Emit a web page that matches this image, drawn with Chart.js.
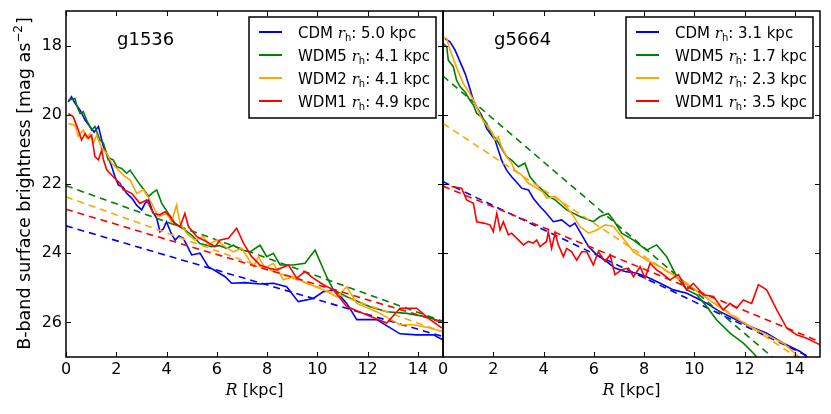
<!DOCTYPE html>
<html>
<head>
<meta charset="utf-8">
<script src="https://cdn.jsdelivr.net/npm/chart.js@4/dist/chart.umd.min.js"></script>
<style>
  body { margin: 0; background: #fff; }
  #wrap { position: relative; width: 831px; height: 414px; }
  canvas { position: absolute; left: 0; top: 0; }
</style>
</head>
<body>
<div id="wrap">
  <canvas id="left" width="831" height="414"></canvas>
  <canvas id="right" width="831" height="414"></canvas>
</div>
<script>
// axes
const xTicks = [0, 2, 4, 6, 8, 10, 12, 14];
const yTicks = [18, 20, 22, 24, 26];
const models = ["CDM", "WDM5", "WDM2", "WDM1"];
const colors = ["#0000ff", "#008000", "#ffa500", "#ff0000"];
const fitR = [0, 15];

// g1536
const g1536Rh = ["5.0", "4.1", "4.1", "4.9"];
const g1536CdmR = [0.09,0.22,0.36,0.55,0.76,0.95,1.12,1.29,1.49,1.68,1.82,1.95,2.08,2.28,2.41,2.61,2.81,3.01,3.15,3.29,3.45,3.61,3.74,3.87,4.0,4.17,4.34,4.5,4.67,5.0,5.33,5.66,5.99,6.33,6.59,7.12,7.72,8.25,8.78,9.24,9.84,10.24,10.7,11.17,11.57,12.36,13.29,13.95,14.62,14.99];
const g1536CdmMu = [19.63,19.48,19.67,19.85,20.15,20.34,20.5,20.34,20.92,21.21,21.5,21.79,22.03,22.1,22.27,22.4,22.61,22.75,22.55,22.46,22.8,22.99,23.38,23.3,23.09,23.4,23.62,23.5,23.57,24.05,24.0,24.39,24.53,24.68,24.87,24.85,24.89,24.87,24.97,25.4,25.31,25.11,25.06,25.45,25.92,25.92,26.33,26.36,26.36,26.5];
const g1536Wdm5R = [0.09,0.36,0.42,0.56,0.69,0.82,1.02,1.15,1.35,1.49,1.68,1.75,1.88,2.02,2.21,2.41,2.55,2.81,3.01,3.29,3.45,3.61,3.81,4.07,4.34,4.73,5.0,5.33,5.8,6.1,6.39,6.66,6.99,7.32,7.72,7.99,8.25,8.52,9.04,9.51,9.91,10.37,10.64,11.17,12.1,12.76,13.56,14.35,14.95];
const g1536Wdm5Mu = [19.58,19.53,19.72,19.96,19.91,20.15,20.44,20.34,20.73,20.82,21.3,21.26,21.3,21.5,21.55,21.69,21.6,21.88,22.08,22.36,22.25,22.17,22.56,22.85,23.13,23.33,23.48,23.72,23.81,23.78,23.86,23.77,23.91,23.96,23.77,24.1,24.0,24.34,24.34,24.29,23.91,24.68,25.06,25.26,25.55,25.69,25.74,25.84,25.98];
const g1536Wdm2R = [0.09,0.36,0.49,0.69,0.82,0.95,1.09,1.22,1.42,1.62,1.82,2.08,2.35,2.55,2.81,3.08,3.34,3.67,4.0,4.2,4.4,4.54,4.8,5.13,5.47,5.66,5.99,6.33,6.66,6.99,7.46,7.66,7.92,8.25,8.65,9.04,9.58,10.24,10.77,11.17,11.57,12.36,13.29,13.82,14.49,14.95];
const g1536Wdm2Mu = [20.25,20.3,20.63,20.44,20.68,20.54,20.82,20.59,20.97,21.11,21.4,21.59,21.79,21.88,22.27,22.17,22.46,22.94,22.85,23.09,22.61,23.13,23.42,23.62,23.52,23.76,23.62,23.81,23.96,23.86,24.39,24.1,24.43,24.29,24.77,24.68,24.87,25.06,25.26,24.97,25.45,25.69,26.07,26.07,26.16,26.26];
const g1536Wdm1R = [0.09,0.29,0.49,0.62,0.76,0.89,1.02,1.15,1.29,1.42,1.49,1.62,1.88,2.15,2.28,2.41,2.61,2.94,3.21,3.47,3.74,3.94,4.14,4.34,4.54,4.73,4.87,5.2,5.6,5.93,6.13,6.46,6.79,7.06,7.39,7.72,8.05,8.38,8.85,9.18,9.51,9.84,10.24,10.64,11.17,11.83,12.76,13.29,13.95,14.49,14.95];
const g1536Wdm1Mu = [19.96,20.06,20.44,20.73,20.54,20.68,20.59,21.21,21.3,21.02,21.3,21.59,21.79,21.98,22.17,22.2,22.27,22.56,22.46,22.85,22.89,22.8,22.94,23.18,23.23,22.85,23.23,23.52,23.67,23.81,23.62,23.57,23.28,23.71,24.1,24.34,24.43,24.48,24.34,24.72,24.53,24.72,24.91,25.06,25.54,25.74,26.02,25.59,25.59,25.92,26.16];
const g1536FitCdm = [23.21, 26.41];
const g1536FitWdm5 = [22.05, 25.97];
const g1536FitWdm2 = [22.37, 26.28];
const g1536FitWdm1 = [22.73, 26.0];

// g5664
const g5664Rh = ["3.1", "1.7", "2.3", "3.5"];
const g5664CdmR = [0.08,0.28,0.48,0.68,0.88,1.01,1.21,1.34,1.54,1.74,1.94,2.07,2.2,2.33,2.53,2.73,2.93,3.13,3.4,3.59,3.86,4.06,4.39,4.72,5.05,5.25,5.52,5.79,6.12,6.51,6.84,7.24,7.71,8.1,8.64,9.17,9.7,10.1,10.49,11.02,11.55,12.22,12.88,13.54,14.21,14.47,15.0];
const g5664CdmMu = [17.8,17.89,18.13,18.47,18.81,19.1,19.58,19.78,20.02,20.4,20.6,20.73,21.02,21.31,21.6,21.79,21.95,22.12,22.17,22.41,22.65,22.8,23.09,23.04,23.23,23.13,23.47,23.81,24.05,24.24,24.43,24.53,24.58,24.68,24.87,25.06,25.16,25.3,25.45,25.69,25.88,26.12,26.31,26.6,26.84,26.99,27.3];
const g5664Wdm5R = [0.01,0.15,0.21,0.41,0.54,0.68,0.88,1.07,1.21,1.34,1.54,1.74,1.87,2.14,2.33,2.53,2.73,3.0,3.26,3.46,3.73,3.99,4.19,4.46,4.92,5.45,5.98,6.25,6.58,6.78,7.11,7.58,8.1,8.5,8.9,9.3,9.7,10.1,10.49,10.89,11.42,11.95,12.35,12.6];
const g5664Wdm5Mu = [17.94,18.04,18.42,18.61,19.0,19.19,19.34,19.58,19.72,19.96,20.06,20.25,20.49,20.73,20.97,21.21,21.31,21.5,21.4,21.79,22.03,22.2,22.35,22.46,22.75,22.94,23.09,22.94,22.85,23.04,23.42,23.62,23.91,23.76,24.1,24.68,25.06,25.2,25.54,25.93,26.31,26.6,26.89,27.1];
const g5664Wdm2R = [0.01,0.15,0.28,0.48,0.61,0.81,0.94,1.14,1.34,1.54,1.74,1.94,2.07,2.2,2.33,2.53,2.73,2.86,3.13,3.4,3.73,3.99,4.12,4.46,4.79,5.12,5.45,5.79,6.12,6.45,6.78,7.11,7.58,8.1,8.64,9.17,9.7,10.23,10.89,11.55,12.22,12.88,13.54,14.07,14.5];
const g5664Wdm2Mu = [17.75,17.8,18.13,18.52,18.76,19.1,19.24,19.48,19.78,20.11,20.3,20.49,20.73,20.63,20.92,21.21,21.4,21.6,21.74,21.98,22.12,22.25,22.41,22.36,22.56,22.85,23.23,23.42,23.33,23.18,23.23,23.52,23.96,24.2,24.39,24.63,24.87,25.16,25.5,25.83,26.12,26.36,26.6,26.94,27.2];
const g5664Wdm1R = [0.34,0.74,0.94,1.21,1.34,1.61,1.87,2.0,2.14,2.27,2.4,2.6,2.73,3.06,3.2,3.4,3.59,3.73,3.86,4.12,4.19,4.32,4.46,4.59,4.79,4.92,5.12,5.32,5.52,5.72,5.98,6.18,6.45,6.65,6.84,7.11,7.38,7.58,7.84,8.04,8.24,8.5,8.7,9.03,9.37,9.7,9.96,10.36,10.76,11.15,11.42,11.68,11.95,12.28,12.55,12.88,13.28,13.68,14.07,14.47,15.0];
const g5664Wdm1Mu = [22.07,22.12,22.46,22.56,23.09,23.13,23.18,23.38,22.85,23.33,23.09,23.47,23.42,23.66,23.76,23.66,23.71,23.62,23.81,23.66,23.38,23.86,23.42,23.76,24.1,23.86,23.96,24.2,23.96,23.96,24.34,23.96,24.24,24.05,24.62,24.48,24.43,24.68,24.39,24.72,24.29,24.48,24.58,24.77,24.62,25.06,24.87,25.2,25.25,25.64,25.45,25.59,25.35,25.45,24.91,25.06,25.64,26.17,26.36,26.46,26.65];
const g5664FitCdm = [21.93, 27.14];
const g5664FitWdm5 = [18.88, 28.18];
const g5664FitWdm2 = [20.25, 27.45];
const g5664FitWdm1 = [22.06, 26.56];

const FONT = '"DejaVu Sans", sans-serif';
const SERIF = '"DejaVu Serif", serif';

const pts = (r, mu) => r.map((v, i) => ({ x: v, y: mu[i] }));

// matplotlib order: profile then fit, per model; last drawn ends on top
const buildDatasets = (profiles, fits) => {
    const list = [];
    profiles.forEach((p, i) => {
        list.push({ data: pts(p[0], p[1]), borderColor: colors[i], borderWidth: 1.6 });
        list.push({ data: pts(fitR, fits[i]), borderColor: colors[i], borderWidth: 1.6, borderDash: [7, 5] });
    });
    return list.reverse();
};

const line = (ctx, x1, y1, x2, y2) => {
    ctx.beginPath();
    ctx.moveTo(x1, y1);
    ctx.lineTo(x2, y2);
    ctx.stroke();
};

const panelPlugin = {
    id: "panel",
    afterDraw(chart, args, opts) {
        const { ctx, chartArea: a, scales } = chart;
        ctx.save();
        ctx.strokeStyle = "#000";
        ctx.fillStyle = "#000";

        // inward ticks on all four sides
        ctx.lineWidth = 1;
        xTicks.forEach((v) => {
            const x = Math.round(scales.x.getPixelForValue(v)) + 0.5;
            line(ctx, x, a.bottom, x, a.bottom - 5);
            line(ctx, x, a.top, x, a.top + 5);
        });
        yTicks.forEach((v) => {
            const y = Math.round(scales.y.getPixelForValue(v)) + 0.5;
            line(ctx, a.left, y, a.left + 5, y);
            line(ctx, a.right, y, a.right - 5, y);
        });

        // frame
        ctx.lineWidth = 1.5;
        ctx.strokeRect(a.left, a.top, a.right - a.left, a.bottom - a.top);

        // panel name
        ctx.font = "18px " + FONT;
        ctx.textBaseline = "alphabetic";
        ctx.textAlign = "left";
        ctx.fillText(opts.title, a.left + 51, 45);

        // legend
        const bx = a.right - 194, by = 17, bw = 187, bh = 101;
        ctx.fillStyle = "#fff";
        ctx.fillRect(bx, by, bw, bh);
        ctx.lineWidth = 1.5;
        ctx.strokeRect(bx, by, bw, bh);
        models.forEach((m, i) => {
            const cy = by + 15 + i * 23;
            ctx.strokeStyle = colors[i];
            ctx.lineWidth = 2;
            line(ctx, bx + 10, cy, bx + 33, cy);
            ctx.fillStyle = "#000";
            let x = bx + 49;
            const base = cy + 5.5;
            ctx.font = "15px " + FONT;
            ctx.fillText(m + " ", x, base);
            x += ctx.measureText(m + " ").width;
            ctx.font = "italic 15px " + SERIF;
            ctx.fillText("r", x, base);
            x += ctx.measureText("r").width;
            ctx.font = "10px " + FONT;
            ctx.fillText("h", x, base + 3);
            x += ctx.measureText("h").width;
            ctx.font = "15px " + FONT;
            ctx.fillText(": " + opts.rh[i] + " kpc", x, base);
        });

        // x axis title: R [kpc]
        ctx.fillStyle = "#000";
        const cx = (a.left + a.right) / 2;
        ctx.font = "italic 16px " + SERIF;
        const wR = ctx.measureText("R").width;
        ctx.font = "16px " + FONT;
        const wK = ctx.measureText(" [kpc]").width;
        let tx = cx - (wR + wK) / 2;
        ctx.font = "italic 16px " + SERIF;
        ctx.fillText("R", tx, 395);
        ctx.font = "16px " + FONT;
        ctx.fillText(" [kpc]", tx + wR, 395);

        // y axis title on the left panel only
        if (opts.yTitle) {
            ctx.translate(30, (a.top + a.bottom) / 2);
            ctx.rotate(-Math.PI / 2);
            const t1 = "B-band surface brightness [mag as";
            const t2 = "\u22122";
            const t3 = "]";
            ctx.font = "17.5px " + FONT;
            const w1 = ctx.measureText(t1).width, w3 = ctx.measureText(t3).width;
            ctx.font = "12px " + FONT;
            const w2 = ctx.measureText(t2).width;
            let y0 = -(w1 + w2 + w3) / 2;
            ctx.font = "17.5px " + FONT;
            ctx.fillText(t1, y0, 0);
            ctx.font = "12px " + FONT;
            ctx.fillText(t2, y0 + w1, -8);
            ctx.font = "17.5px " + FONT;
            ctx.fillText(t3, y0 + w1 + w2 + 1, 0);
        }
        ctx.restore();
    },
};

const makeChart = (id, datasets, opts, padRight, yWidth, showY) => {
    return new Chart(document.getElementById(id), {
        type: "line",
        data: { datasets },
        options: {
            responsive: false,
            animation: false,
            layout: { padding: { left: 0, top: 11, right: padRight, bottom: 0 } },
            elements: { point: { radius: 0 }, line: { tension: 0, fill: false } },
            plugins: { legend: { display: false }, tooltip: { enabled: false }, panel: opts },
            scales: {
                x: {
                    type: "linear",
                    min: 0,
                    max: 15,
                    afterBuildTicks: (s) => { s.ticks = xTicks.map((v) => ({ value: v })); },
                    afterFit: (s) => { s.height = 57; s.paddingLeft = 0; s.paddingRight = 0; },
                    ticks: { font: { family: FONT, size: 16 }, color: "#000", padding: 3, maxRotation: 0 },
                    grid: { display: false, drawTicks: false },
                    border: { display: false },
                },
                y: {
                    type: "linear",
                    reverse: true,
                    min: 17,
                    max: 27,
                    afterBuildTicks: (s) => { s.ticks = yTicks.map((v) => ({ value: v })); },
                    afterFit: (s) => { s.width = yWidth; s.paddingTop = 0; s.paddingBottom = 0; },
                    ticks: { display: showY, font: { family: FONT, size: 16 }, color: "#000", padding: 4 },
                    grid: { display: false, drawTicks: false },
                    border: { display: false },
                },
            },
        },
        plugins: [panelPlugin],
    });
};

makeChart("left", buildDatasets(
    [[g1536CdmR, g1536CdmMu], [g1536Wdm5R, g1536Wdm5Mu], [g1536Wdm2R, g1536Wdm2Mu], [g1536Wdm1R, g1536Wdm1Mu]],
    [g1536FitCdm, g1536FitWdm5, g1536FitWdm2, g1536FitWdm1]
), { title: "g1536", rh: g1536Rh, yTitle: true }, 388, 66, true);

makeChart("right", buildDatasets(
    [[g5664CdmR, g5664CdmMu], [g5664Wdm5R, g5664Wdm5Mu], [g5664Wdm2R, g5664Wdm2Mu], [g5664Wdm1R, g5664Wdm1Mu]],
    [g5664FitCdm, g5664FitWdm5, g5664FitWdm2, g5664FitWdm1]
), { title: "g5664", rh: g5664Rh, yTitle: false }, 11, 443, false);
</script>
</body>
</html>
